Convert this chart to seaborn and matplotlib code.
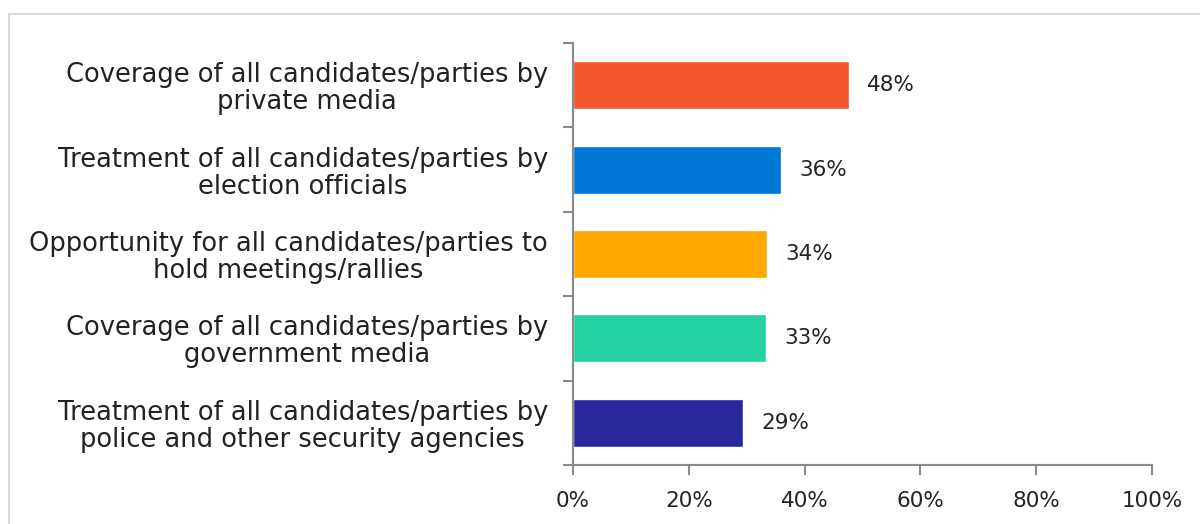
import matplotlib
matplotlib.use("Agg")
import matplotlib.pyplot as plt
import seaborn as sns
import pandas as pd
from matplotlib.lines import Line2D

categories = [
    "Coverage of all candidates/parties by\nprivate media",
    "Treatment of all candidates/parties by\nelection officials",
    "Opportunity for all candidates/parties to\nhold meetings/rallies",
    "Coverage of all candidates/parties by\ngovernment media",
    "Treatment of all candidates/parties by\npolice and other security agencies",
]
values = [47.7, 35.9, 33.5, 33.3, 29.4]
value_labels = ["48%", "36%", "34%", "33%", "29%"]
colors = ["#F1572A", "#0078D7", "#FFA800", "#24D1A0", "#28289C"]
xticks = [0, 20, 40, 60, 80, 100]
xtick_labels = ["0%", "20%", "40%", "60%", "80%", "100%"]

sns.set_theme(style="white")
plt.rcParams['font.family'] = ['DejaVu Sans']

df = pd.DataFrame({"cat": categories, "val": values})

fig = plt.figure(figsize=(12, 5.24), dpi=100)
ax = fig.add_axes([573/1200, 1-465/524, (1152-573)/1200, (465-43)/524])
sns.barplot(data=df, y="cat", x="val", hue="cat", palette=colors, legend=False,
            width=0.57, ax=ax, saturation=1)

for cont, lab in zip(ax.containers, value_labels):
    ax.bar_label(cont, labels=[lab], padding=13, fontsize=15.5, color="#222222")

ax.set_xlim(0, 100)
ax.set_ylim(4.5, -0.5)
ax.set_xticks(xticks)
ax.set_xticklabels(xtick_labels, fontsize=15.5, color="#222222")
ax.set_xlabel("")
ax.set_ylabel("")
ax.set_yticks(range(len(categories)))
ax.set_yticklabels(categories, fontsize=18.5, color="#222222")
for t in ax.get_yticklabels():
    t.set_multialignment("center")
    t.set_linespacing(1.05)
ax.tick_params(axis="y", which="major", length=0, pad=18)
ax.set_yticks([i - 0.5 for i in range(len(categories) + 1)], minor=True)
ax.tick_params(axis="y", which="minor", length=7, color="#8a8a8a", width=1.5, direction="out", left=True)
ax.tick_params(axis="x", which="major", length=7, color="#8a8a8a", width=1.5, direction="out", bottom=True, pad=12)

for s in ["top", "right"]:
    ax.spines[s].set_visible(False)
for s in ["left", "bottom"]:
    ax.spines[s].set_color("#8a8a8a")
    ax.spines[s].set_linewidth(1.5)

# outer frame
fx0, fy0 = 9/1200, 1-14/524
fig.add_artist(Line2D([fx0, 1], [fy0, fy0], transform=fig.transFigure, color="#d9d9d9", lw=1.5))
fig.add_artist(Line2D([fx0, fx0], [0, fy0], transform=fig.transFigure, color="#d9d9d9", lw=1.5))

fig.savefig("out.png", dpi=100)
